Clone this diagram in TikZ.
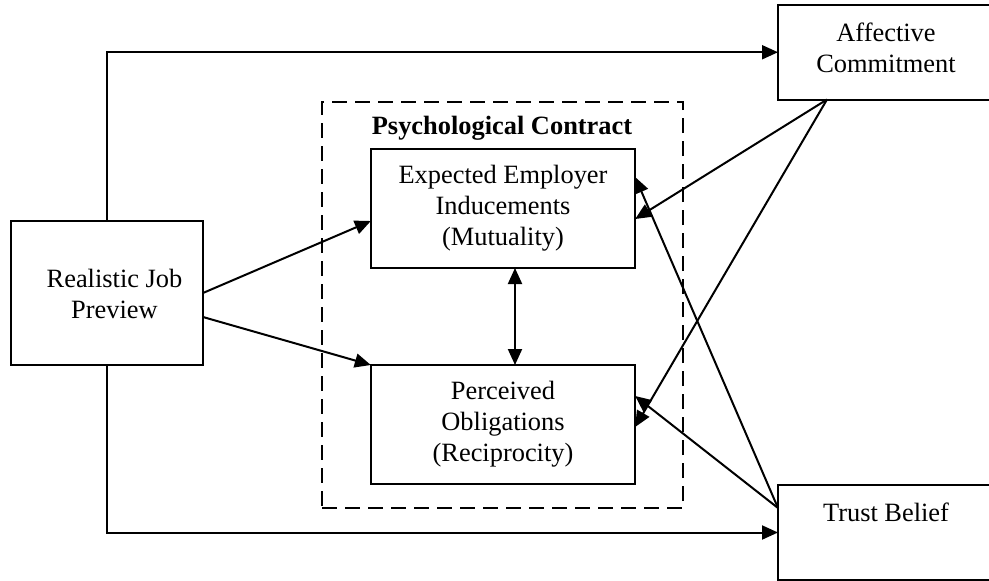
\documentclass[tikz,border=0pt]{standalone}
\usepackage{fontspec}
\setmainfont{Liberation Serif}
\usetikzlibrary{arrows.meta,calc}
\tikzset{
  txt/.style={font=\fontsize{26.4}{31}\selectfont, align=center, inner sep=0pt},
  boxnode/.style={draw, line width=2pt, inner sep=0pt, outer sep=0pt, align=center,
    font=\fontsize{26.4}{31}\selectfont},
  arr/.style={line width=2pt, -{Triangle[length=16pt,width=14pt]}},
  darr/.style={line width=2pt, {Triangle[length=16pt,width=14pt]}-{Triangle[length=16pt,width=14pt]}},
  pcbox/.style={draw, line width=2pt, dash pattern=on 15pt off 8pt, inner sep=0pt, outer sep=0pt}
}
\begin{document}
\begin{tikzpicture}[x=1pt,y=-1pt]
\useasboundingbox (0,0) rectangle (989,581);
\clip (0,0) rectangle (989,581);
% boxes
\node[boxnode, minimum width=192pt, minimum height=144.3pt] (rjp) at (107,293) {};
\node[txt] (rjpt) at (114.5,293.5) {Realistic Job\\Preview};
\node[boxnode, minimum width=216pt, minimum height=94.5pt] (aff) at (886,52.25) {};
\node[txt] (afft) at (886,48) {Affective\\Commitment};
\node[boxnode, minimum width=216pt, minimum height=95pt] (trust) at (886,532.5) {};
\node[txt] (trustt) at (886,512) {Trust Belief};
\node[pcbox, minimum width=361pt, minimum height=406.5pt] (pc) at (502.5,304.75) {};
\node[txt, font=\fontsize{26.4}{31}\selectfont\bfseries] (pct) at (502,128) {Psychological Contract};
\node[boxnode, minimum width=264.3pt, minimum height=119pt] (exp) at (503,208.5) {Expected Employer\\Inducements\\(Mutuality)};
\node[boxnode, minimum width=264.3pt, minimum height=119pt] (per) at (503,424.5) {Perceived\\Obligations\\(Reciprocity)};
% connector points
\coordinate (affp) at ($(aff.south west)+(49,0)$);
\coordinate (trp) at ($(trust.north west)+(0,23)$);
% connectors
\draw[arr] ([xshift=-0.3pt]rjp.north) |- (aff.west);
\draw[arr] ([xshift=-0.3pt]rjp.south) |- (trust.west);
\draw[arr] (rjp.east) -- ([yshift=-72pt]exp.north west);
\draw[arr] ([yshift=-24pt]rjp.east) -- (per.north west);
\draw[darr] ([xshift=12pt]exp.south) -- ([xshift=12pt]per.north);
\draw[arr] (affp) -- ([yshift=-70pt]exp.north east);
\draw[arr] (affp) -- ([yshift=-62pt]per.north east);
\draw[arr] (trp) -- ([yshift=-28pt]exp.north east);
\draw[arr] (trp) -- ([yshift=-31pt]per.north east);
\end{tikzpicture}
\end{document}
